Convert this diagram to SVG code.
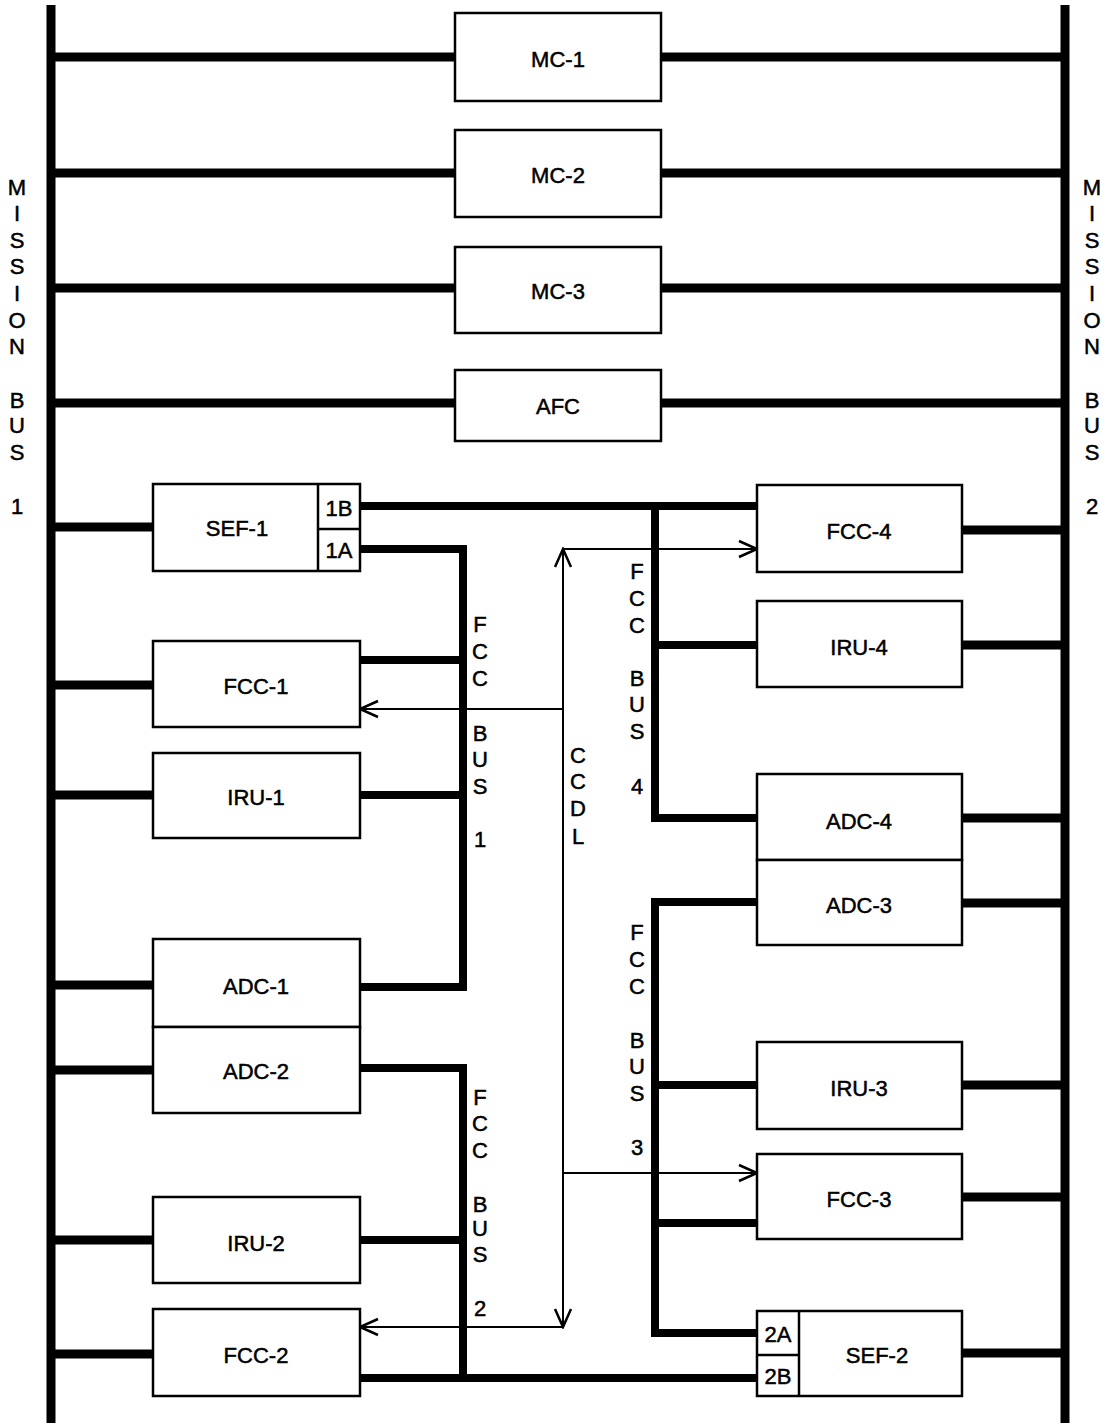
<svg xmlns="http://www.w3.org/2000/svg" width="1105" height="1423" viewBox="0 0 1105 1423">
<defs>
<style>
.box{fill:#fff;stroke:#000;stroke-width:2.5}
.bus{stroke:#000;stroke-width:9;fill:none;stroke-linecap:butt}
.fb{stroke:#000;stroke-width:8;fill:none}
.cc{stroke:#000;stroke-width:2;fill:none}
.t{font-family:"Liberation Sans",Arial,sans-serif;font-size:22px;text-anchor:middle;dominant-baseline:central;fill:#000;stroke:#000;stroke-width:0.5}
.v{font-family:"Liberation Sans",Arial,sans-serif;font-size:22px;text-anchor:middle;fill:#000;stroke:#000;stroke-width:0.5}
</style>
<marker id="ah" viewBox="0 0 22 20" refX="20" refY="10" markerWidth="22" markerHeight="20" markerUnits="userSpaceOnUse" orient="auto-start-reverse">
<path d="M2,2 L20,10 L2,18" fill="none" stroke="#000" stroke-width="2.5"/>
</marker>
</defs>
<rect width="1105" height="1423" fill="#fff"/>
<g id="connectors">
<line class="bus" x1="51" y1="5" x2="51" y2="1423"/>
<line class="bus" x1="1065" y1="5" x2="1065" y2="1423"/>
<path class="bus" d="M55,57H455M661,57H1061M55,173H455M661,173H1061M55,288H455M661,288H1061M55,403H455M661,403H1061"/>
<path class="bus" d="M55,527H153M55,685H153M55,795H153M55,985H153M55,1070H153M55,1240H153M55,1354H153"/>
<path class="bus" d="M962,530H1061M962,645H1061M962,818H1061M962,903H1061M962,1085H1061M962,1197H1061M962,1353H1061"/>
<path class="fb" d="M360,549H463V987H360M360,660H463M360,795H463"/>
<path class="fb" d="M360,1068H463V1378M360,1240H463M360,1378H757"/>
<path class="fb" d="M360,506H757M655,506V818H757M655,645H757"/>
<path class="fb" d="M757,902H655V1333H757M655,1085H757M655,1223H757"/>
<line class="cc" x1="563" y1="549" x2="563" y2="1327" marker-start="url(#ah)" marker-end="url(#ah)"/>
<line class="cc" x1="563" y1="549" x2="757" y2="549" marker-end="url(#ah)"/>
<line class="cc" x1="563" y1="709" x2="360" y2="709" marker-end="url(#ah)"/>
<line class="cc" x1="563" y1="1173" x2="757" y2="1173" marker-end="url(#ah)"/>
<line class="cc" x1="563" y1="1327" x2="360" y2="1327" marker-end="url(#ah)"/>
</g>
<g id="MC-1"><rect class="box" x="455" y="13" width="206" height="88"/><text class="t" x="558" y="59">MC-1</text></g>
<g id="MC-2"><rect class="box" x="455" y="130" width="206" height="87"/><text class="t" x="558" y="175">MC-2</text></g>
<g id="MC-3"><rect class="box" x="455" y="247" width="206" height="86"/><text class="t" x="558" y="291">MC-3</text></g>
<g id="AFC"><rect class="box" x="455" y="370" width="206" height="71"/><text class="t" x="558" y="406">AFC</text></g>
<g id="SEF-1"><rect class="box" x="153" y="484" width="207" height="87"/><line class="box" x1="318" y1="484" x2="318" y2="571"/><line class="box" x1="318" y1="529" x2="360" y2="529"/><text class="t" x="237" y="528">SEF-1</text><text class="t" x="339" y="508">1B</text><text class="t" x="339" y="550">1A</text></g>
<g id="FCC-1"><rect class="box" x="153" y="641" width="207" height="86"/><text class="t" x="256" y="686">FCC-1</text></g>
<g id="IRU-1"><rect class="box" x="153" y="753" width="207" height="85"/><text class="t" x="256" y="797">IRU-1</text></g>
<g id="ADC-1"><rect class="box" x="153" y="939" width="207" height="88"/><text class="t" x="256" y="986">ADC-1</text></g>
<g id="ADC-2"><rect class="box" x="153" y="1027" width="207" height="86"/><text class="t" x="256" y="1071">ADC-2</text></g>
<g id="IRU-2"><rect class="box" x="153" y="1197" width="207" height="86"/><text class="t" x="256" y="1243">IRU-2</text></g>
<g id="FCC-2"><rect class="box" x="153" y="1309" width="207" height="87"/><text class="t" x="256" y="1355">FCC-2</text></g>
<g id="FCC-4"><rect class="box" x="757" y="485" width="205" height="87"/><text class="t" x="859" y="531">FCC-4</text></g>
<g id="IRU-4"><rect class="box" x="757" y="601" width="205" height="86"/><text class="t" x="859" y="647">IRU-4</text></g>
<g id="ADC-4"><rect class="box" x="757" y="774" width="205" height="86"/><text class="t" x="859" y="821">ADC-4</text></g>
<g id="ADC-3"><rect class="box" x="757" y="860" width="205" height="85"/><text class="t" x="859" y="905">ADC-3</text></g>
<g id="IRU-3"><rect class="box" x="757" y="1042" width="205" height="87"/><text class="t" x="859" y="1088">IRU-3</text></g>
<g id="FCC-3"><rect class="box" x="757" y="1154" width="205" height="85"/><text class="t" x="859" y="1199">FCC-3</text></g>
<g id="SEF-2"><rect class="box" x="757" y="1311" width="205" height="85"/><line class="box" x1="799" y1="1311" x2="799" y2="1396"/><line class="box" x1="757" y1="1355" x2="799" y2="1355"/><text class="t" x="877" y="1355">SEF-2</text><text class="t" x="778" y="1334">2A</text><text class="t" x="778" y="1376">2B</text></g>
<g id="labels">
<g class="v">
<text x="17" y="195">M</text><text x="17" y="221">I</text><text x="17" y="248">S</text><text x="17" y="274">S</text><text x="17" y="301">I</text><text x="17" y="328">O</text><text x="17" y="354">N</text><text x="17" y="408">B</text><text x="17" y="433">U</text><text x="17" y="460">S</text><text x="17" y="514">1</text>
<text x="1092" y="195">M</text><text x="1092" y="221">I</text><text x="1092" y="248">S</text><text x="1092" y="274">S</text><text x="1092" y="301">I</text><text x="1092" y="328">O</text><text x="1092" y="354">N</text><text x="1092" y="408">B</text><text x="1092" y="433">U</text><text x="1092" y="460">S</text><text x="1092" y="514">2</text>
<text x="480" y="632">F</text><text x="480" y="659">C</text><text x="480" y="686">C</text><text x="480" y="741">B</text><text x="480" y="767">U</text><text x="480" y="794">S</text><text x="480" y="847">1</text>
<text x="480" y="1105">F</text><text x="480" y="1131">C</text><text x="480" y="1158">C</text><text x="480" y="1212">B</text><text x="480" y="1236">U</text><text x="480" y="1262">S</text><text x="480" y="1316">2</text>
<text x="578" y="763">C</text><text x="578" y="789">C</text><text x="578" y="816">D</text><text x="578" y="844">L</text>
<text x="637" y="579">F</text><text x="637" y="606">C</text><text x="637" y="633">C</text><text x="637" y="686">B</text><text x="637" y="712">U</text><text x="637" y="739">S</text><text x="637" y="794">4</text>
<text x="637" y="940">F</text><text x="637" y="967">C</text><text x="637" y="994">C</text><text x="637" y="1048">B</text><text x="637" y="1074">U</text><text x="637" y="1101">S</text><text x="637" y="1155">3</text>
</g>
</g>
</svg>
